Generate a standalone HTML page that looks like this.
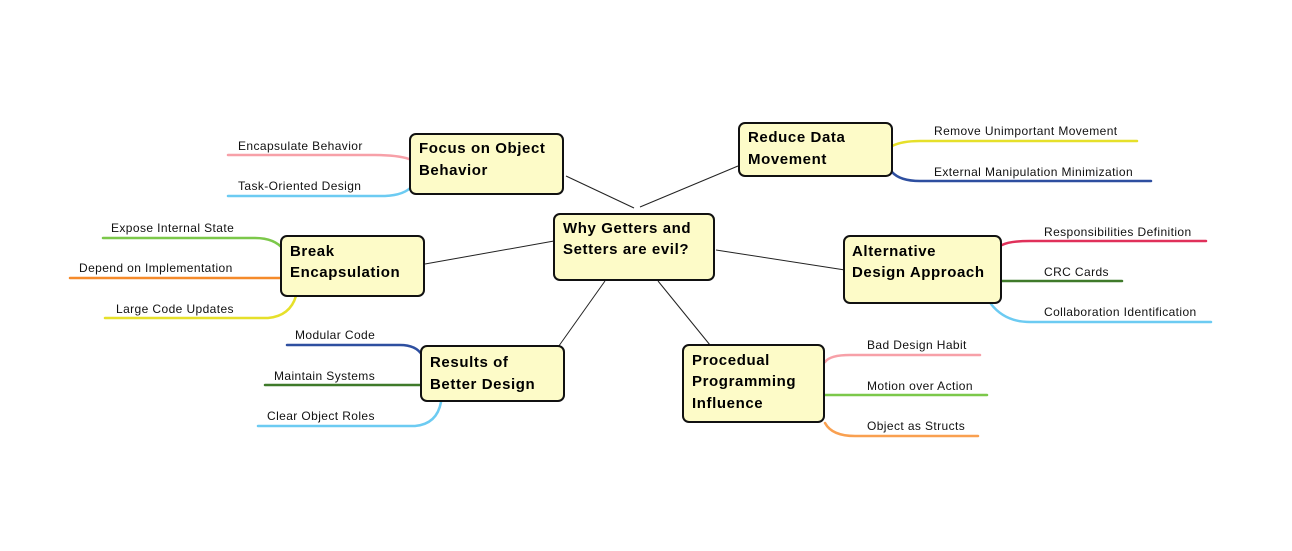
<!DOCTYPE html>
<html><head><meta charset="utf-8"><style>
html,body{margin:0;padding:0;background:#fff}
svg{display:block}
.t{font-family:"Liberation Sans",sans-serif;font-size:12px;fill:#111;letter-spacing:0.4px}
.b{font-family:"Liberation Sans",sans-serif;font-size:15px;font-weight:bold;fill:#000;letter-spacing:0.6px}
.n{fill:#fdfbc8;stroke:#111;stroke-width:2}
.c{stroke:#222;stroke-width:1;fill:none}
.br{fill:none;stroke-width:2.5;stroke-linecap:round}
</style></head><body>
<svg width="1292" height="551" viewBox="0 0 1292 551" xmlns="http://www.w3.org/2000/svg">
<!-- connectors -->
<line class="c" x1="566" y1="176" x2="634" y2="208"/>
<line class="c" x1="640" y1="207" x2="738" y2="166"/>
<line class="c" x1="425" y1="264" x2="554" y2="241"/>
<line class="c" x1="716" y1="250" x2="845" y2="270"/>
<line class="c" x1="556" y1="350" x2="605" y2="281"/>
<line class="c" x1="710" y1="345" x2="658" y2="281"/>
<!-- branches -->
<path class="br" stroke="#f7a0a8" d="M228,155 H375 Q400,155 412,160"/>
<path class="br" stroke="#6ccbf2" d="M228,196 H385 Q405,195 412,186"/>
<path class="br" stroke="#e6e02a" d="M892,146 Q902,141 920,141 H1137"/>
<path class="br" stroke="#2e4fa0" d="M892,172 Q900,181 920,181 H1151"/>
<path class="br" stroke="#7cc84a" d="M103,238 H255 Q275,238 284,250"/>
<path class="br" stroke="#f58a2a" d="M70,278 H282"/>
<path class="br" stroke="#e6e02a" d="M105,318 H268 Q290,316 296,296"/>
<path class="br" stroke="#e0305a" d="M1002,245 Q1010,241 1030,241 H1206"/>
<path class="br" stroke="#3f7a2a" d="M1002,281 H1122"/>
<path class="br" stroke="#6ccbf2" d="M991,304 Q1005,322 1030,322 H1211"/>
<path class="br" stroke="#2e4fa0" d="M287,345 H400 Q416,345 422,355"/>
<path class="br" stroke="#3f7a2a" d="M265,385 H421"/>
<path class="br" stroke="#6ccbf2" d="M258,426 H415 Q437,424 441,402"/>
<path class="br" stroke="#f7a0a8" d="M825,362 Q830,355 850,355 H980"/>
<path class="br" stroke="#7cc84a" d="M825,395 H987"/>
<path class="br" stroke="#f9a050" d="M825,423 Q832,436 855,436 H978"/>
<!-- branch labels -->
<text class="t" x="238" y="150">Encapsulate Behavior</text>
<text class="t" x="238" y="190">Task-Oriented Design</text>
<text class="t" x="934" y="135">Remove Unimportant Movement</text>
<text class="t" x="934" y="176">External Manipulation Minimization</text>
<text class="t" x="111" y="232">Expose Internal State</text>
<text class="t" x="79" y="272">Depend on Implementation</text>
<text class="t" x="116" y="313">Large Code Updates</text>
<text class="t" x="1044" y="236">Responsibilities Definition</text>
<text class="t" x="1044" y="276">CRC Cards</text>
<text class="t" x="1044" y="316">Collaboration Identification</text>
<text class="t" x="295" y="339">Modular Code</text>
<text class="t" x="274" y="380">Maintain Systems</text>
<text class="t" x="267" y="420">Clear Object Roles</text>
<text class="t" x="867" y="349">Bad Design Habit</text>
<text class="t" x="867" y="390">Motion over Action</text>
<text class="t" x="867" y="430">Object as Structs</text>
<!-- nodes -->
<rect class="n" x="554" y="214" width="160" height="66" rx="6"/>
<text class="b" x="563" y="233">Why Getters and</text>
<text class="b" x="563" y="254">Setters are evil?</text>
<rect class="n" x="410" y="134" width="153" height="60" rx="6"/>
<text class="b" x="419" y="153">Focus on Object</text>
<text class="b" x="419" y="175">Behavior</text>
<rect class="n" x="739" y="123" width="153" height="53" rx="6"/>
<text class="b" x="748" y="142">Reduce Data</text>
<text class="b" x="748" y="164">Movement</text>
<rect class="n" x="281" y="236" width="143" height="60" rx="6"/>
<text class="b" x="290" y="256">Break</text>
<text class="b" x="290" y="277">Encapsulation</text>
<rect class="n" x="844" y="236" width="157" height="67" rx="6"/>
<text class="b" x="852" y="256">Alternative</text>
<text class="b" x="852" y="277">Design Approach</text>
<rect class="n" x="421" y="346" width="143" height="55" rx="6"/>
<text class="b" x="430" y="367">Results of</text>
<text class="b" x="430" y="389">Better Design</text>
<rect class="n" x="683" y="345" width="141" height="77" rx="6"/>
<text class="b" x="692" y="365">Procedual</text>
<text class="b" x="692" y="386">Programming</text>
<text class="b" x="692" y="408">Influence</text>
</svg>
</body></html>
